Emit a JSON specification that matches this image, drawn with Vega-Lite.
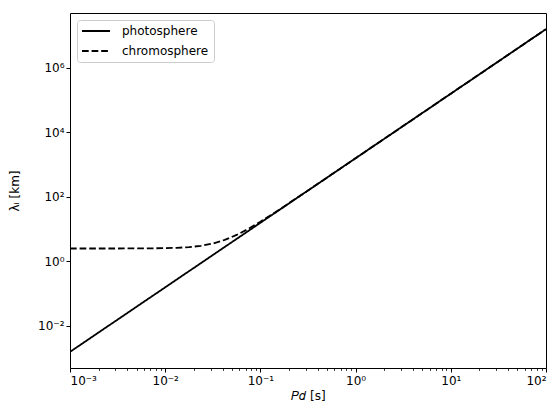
{
  "$schema": "https://vega.github.io/schema/vega-lite/v6.json",
  "width": 476,
  "height": 355,
  "autosize": {"type": "none"},
  "padding": {"left": 70, "top": 13, "right": 12, "bottom": 42},
  "background": "white",
  "config": {
    "font": "DejaVu Sans",
    "view": {"stroke": "#000000", "strokeWidth": 1},
    "axis": {
      "grid": false,
      "domain": false,
      "tickColor": "#000000",
      "tickWidth": 1,
      "tickSize": 4,
      "labelColor": "#000000",
      "labelFontSize": 12,
      "labelFont": "DejaVu Sans",
      "titleColor": "#000000",
      "titleFont": "DejaVu Sans",
      "titleFontSize": 12,
      "titleFontWeight": "normal"
    }
  },
  "datasets": {
    "photosphere": [
      {"P": 0.001, "lambda": 0.001549, "series": "photosphere"},
      {"P": 0.01, "lambda": 0.1549, "series": "photosphere"},
      {"P": 0.1, "lambda": 15.49, "series": "photosphere"},
      {"P": 1, "lambda": 1549, "series": "photosphere"},
      {"P": 10, "lambda": 154900, "series": "photosphere"},
      {"P": 100, "lambda": 15490000, "series": "photosphere"}
    ],
    "chromosphere": [
      {"P": 0.001, "lambda": 2.47, "series": "chromosphere"},
      {"P": 0.001778, "lambda": 2.471, "series": "chromosphere"},
      {"P": 0.003162, "lambda": 2.474, "series": "chromosphere"},
      {"P": 0.005623, "lambda": 2.485, "series": "chromosphere"},
      {"P": 0.01, "lambda": 2.532, "series": "chromosphere"},
      {"P": 0.01334, "lambda": 2.597, "series": "chromosphere"},
      {"P": 0.01778, "lambda": 2.729, "series": "chromosphere"},
      {"P": 0.02371, "lambda": 2.994, "series": "chromosphere"},
      {"P": 0.03162, "lambda": 3.522, "series": "chromosphere"},
      {"P": 0.04217, "lambda": 4.55, "series": "chromosphere"},
      {"P": 0.05623, "lambda": 6.5, "series": "chromosphere"},
      {"P": 0.07499, "lambda": 10.12, "series": "chromosphere"},
      {"P": 0.1, "lambda": 16.72, "series": "chromosphere"},
      {"P": 0.1334, "lambda": 28.6, "series": "chromosphere"},
      {"P": 0.1778, "lambda": 49.9, "series": "chromosphere"},
      {"P": 0.3162, "lambda": 155.5, "series": "chromosphere"},
      {"P": 0.5623, "lambda": 490.3, "series": "chromosphere"},
      {"P": 1, "lambda": 1549.8, "series": "chromosphere"},
      {"P": 10, "lambda": 154900, "series": "chromosphere"},
      {"P": 100, "lambda": 15490000, "series": "chromosphere"}
    ]
  },
  "encoding": {
    "y": {
      "field": "lambda",
      "type": "quantitative",
      "scale": {"type": "log", "domain": [0.00049, 49000000], "nice": false, "zero": false},
      "axis": {
        "title": "λᵢ [km]",
        "titlePadding": 16,
        "values": [0.01, 1, 100, 10000, 1000000],
        "labelPadding": 2,
        "labelExpr": "'10' + ['⁻³','⁻²','⁻¹','⁰','¹','²','³','⁴','⁵','⁶','⁷'][round(log(datum.value)/LN10) + 3]"
      }
    },
    "strokeDash": {
      "field": "series",
      "type": "nominal",
      "scale": {"domain": ["photosphere", "chromosphere"], "range": [[1, 0], [6.7, 2.9]]},
      "legend": {
        "title": null,
        "orient": "top-left",
        "offset": 7,
        "symbolType": "M-1.2,0H4.4",
        "symbolSize": 100,
        "symbolStrokeWidth": 1.8,
        "symbolStrokeColor": "#000000",
        "symbolFillColor": "transparent",
        "labelFontSize": 12,
        "labelFont": "DejaVu Sans",
        "labelColor": "#000000",
        "labelOffset": 28,
        "rowPadding": 8,
        "padding": 5,
        "strokeColor": "#cccccc",
        "fillColor": "#ffffff",
        "cornerRadius": 3
      }
    }
  },
  "layer": [
    {
      "data": {"name": "photosphere"},
      "mark": {"type": "line", "color": "#000000", "strokeWidth": 1.8, "clip": true},
      "encoding": {
        "x": {
          "field": "P",
          "type": "quantitative",
          "scale": {"type": "log", "domain": [0.001, 100], "nice": false, "zero": false},
          "axis": {
            "orient": "bottom",
            "title": "𝑃𝑑 [s]",
            "titlePadding": 4,
            "values": [0.001, 0.01, 0.1, 1, 10, 100],
            "labelPadding": 3,
            "labelExpr": "'10' + ['⁻³','⁻²','⁻¹','⁰','¹','²','³','⁴','⁵','⁶','⁷'][round(log(datum.value)/LN10) + 3]"
          }
        }
      }
    },
    {
      "data": {"name": "chromosphere"},
      "mark": {"type": "line", "color": "#000000", "strokeWidth": 1.8, "clip": true},
      "encoding": {
        "x": {
          "field": "P",
          "type": "quantitative",
          "scale": {"type": "log", "domain": [0.001, 100], "nice": false, "zero": false},
          "axis": {
            "orient": "bottom",
            "title": null,
            "labels": false,
            "tickSize": 2.4,
            "tickWidth": 0.8,
            "values": [0.002, 0.003, 0.004, 0.005, 0.006, 0.007, 0.008, 0.009, 0.02, 0.03, 0.04, 0.05, 0.06, 0.07, 0.08, 0.09, 0.2, 0.3, 0.4, 0.5, 0.6, 0.7, 0.8, 0.9, 2, 3, 4, 5, 6, 7, 8, 9, 20, 30, 40, 50, 60, 70, 80, 90]
          }
        }
      }
    }
  ],
  "resolve": {"axis": {"x": "independent"}, "scale": {"x": "shared"}}
}
